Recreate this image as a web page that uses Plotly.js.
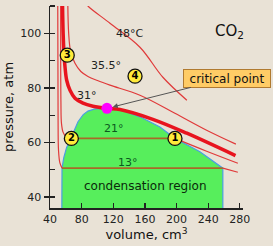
<!DOCTYPE html>
<html>
<head>
<meta charset="utf-8">
<script src="https://cdn.plot.ly/plotly-3.0.1.min.js"></script>
<style>html,body{margin:0;padding:0;background:#E9E2D6;}#chart{width:273px;height:246px;}</style>
</head>
<body>
<div id="chart"></div>
<script>
// Condensation (two-phase) region boundary
const domeVolume   = [55, 55.2, 57.5, 61, 65.3, 70, 75.4, 82, 88, 97, 112, 128, 153.7, 179, 198, 229.5, 258.5, 258.5];
const domePressure = [36, 50.6, 54.5, 58.2, 60.8, 64.3, 67.6, 70.2, 71.5, 72.3, 72.5, 72.1, 69.4, 65.7, 61.5, 56.6, 50.6, 36];

// Isotherms
const iso31Volume   = [55.8, 56.6, 57.7, 59, 61.1, 65.3, 71.6, 81.7, 94.3, 112, 128.4, 170, 213, 274.5];
const iso31Pressure = [111, 100, 92.7, 87.6, 82.8, 79.1, 76.2, 74.4, 73.3, 72.5, 72.1, 68.5, 63.4, 55.2];

const iso355Volume   = [62.5, 63.6, 66, 71.6, 79, 88, 100, 115.8, 153.7, 197.9, 238, 275];
const iso355Pressure = [111, 100, 93.5, 89, 86, 84.2, 82.7, 81, 77.3, 70.7, 64.5, 59.4];

const iso48Volume   = [86, 88, 115.8, 153.7, 182.7, 213];
const iso48Pressure = [111, 110, 103.7, 94.9, 83.9, 75.5];

const iso21LiquidVolume   = [53.5, 53.8, 54.5, 56.5, 60, 66.5];
const iso21LiquidPressure = [111, 75, 67, 63.8, 62.2, 61.5];
const iso21FlatVolume     = [66.5, 198];
const iso21FlatPressure   = [61.5, 61.5];
const iso21GasVolume      = [198, 238, 277.5];
const iso21GasPressure    = [61.5, 56.8, 52.4];

const iso13LiquidVolume   = [49.8, 50.2, 50.8, 52.5, 55.2];
const iso13LiquidPressure = [111, 70, 57, 52.5, 50.6];
const iso13FlatVolume     = [55.2, 258.5];
const iso13FlatPressure   = [50.6, 50.6];
const iso13GasVolume      = [258.5, 277.5];
const iso13GasPressure    = [50.6, 49.1];

// Critical point
const criticalVolume = [112];
const criticalPressure = [72.5];

// Numbered markers
const markerVolume   = [198, 67, 61.8, 147.5];
const markerPressure = [61.5, 61.5, 92, 84.3];
const markerLabels   = ['1', '2', '3', '4'];

// Text labels
const labelText     = ['48°C', '35.5°', '31°', '21°', '13°', 'condensation region'];
const labelVolume   = [141, 110.7, 87.4, 120.8, 138.5, 160.6];
const labelPressure = [100, 88.3, 77.3, 65.2, 52.8, 44];

const xTitle = 'volume, cm<sup>3</sup>';
const yTitle = 'pressure, atm';

const FONT = 'DejaVu Sans, Verdana, sans-serif';
const thinRed = '#E03A3A';
const brown = '#A86A28';

const traces = [
  {x: domeVolume, y: domePressure, mode: 'lines', fill: 'toself', fillcolor: '#57EE5C',
   line: {color: '#4A9FE0', width: 1.2}, hoverinfo: 'skip'},
  {x: iso13FlatVolume, y: iso13FlatPressure, mode: 'lines', line: {color: brown, width: 1.6}},
  {x: iso21FlatVolume, y: iso21FlatPressure, mode: 'lines', line: {color: brown, width: 1.6}},
  {x: iso13LiquidVolume, y: iso13LiquidPressure, mode: 'lines', line: {color: thinRed, width: 1.2, shape: 'spline'}},
  {x: iso21LiquidVolume, y: iso21LiquidPressure, mode: 'lines', line: {color: thinRed, width: 1.2, shape: 'spline'}},
  {x: iso13GasVolume, y: iso13GasPressure, mode: 'lines', line: {color: thinRed, width: 1.2}},
  {x: iso21GasVolume, y: iso21GasPressure, mode: 'lines', line: {color: thinRed, width: 1.2, shape: 'spline'}},
  {x: iso355Volume, y: iso355Pressure, mode: 'lines', line: {color: thinRed, width: 1.2, shape: 'spline'}},
  {x: iso48Volume, y: iso48Pressure, mode: 'lines', line: {color: thinRed, width: 1.2, shape: 'spline'}},
  {x: iso31Volume, y: iso31Pressure, mode: 'lines', line: {color: '#E8141E', width: 3.5, shape: 'spline'}},
  {x: criticalVolume, y: criticalPressure, mode: 'markers', marker: {color: '#FF00FF', size: 11}},
  {x: markerVolume, y: markerPressure, mode: 'markers+text', text: markerLabels.map(t => '<b>' + t + '</b>'),
   textposition: 'middle center', textfont: {family: FONT, size: 10, color: '#000'},
   marker: {color: '#FFEA3A', size: 14, line: {color: '#111', width: 1.3}}, cliponaxis: false}
];

const annotations = labelText.map((t, i) => ({
  x: labelVolume[i], y: labelPressure[i], xref: 'x', yref: 'y', text: t, showarrow: false,
  font: {family: FONT, size: i === 5 ? 12 : 11, color: i === 5 ? '#0A2A0A' : (i >= 3 ? '#0B5A1E' : '#222')}
}));
annotations.push({
  x: criticalVolume[0], y: criticalPressure[0], xref: 'x', yref: 'y',
  text: 'critical point', showarrow: true, ax: 120, ay: -30,
  arrowhead: 2, arrowsize: 1, arrowwidth: 1, arrowcolor: '#555', standoff: 6,
  bgcolor: '#FFCC66', bordercolor: '#B07A30', borderwidth: 1, borderpad: 1,
  width: 84, height: 15, font: {family: FONT, size: 12, color: '#111'}
});
annotations.push({
  x: 1.016, y: 0.93, xref: 'paper', yref: 'paper', text: 'CO<sub>2</sub>', showarrow: false,
  font: {family: FONT, size: 15, color: '#111'}
});

const layout = {
  width: 273, height: 246,
  margin: {l: 50, r: 30, t: 6, b: 38},
  paper_bgcolor: '#E9E2D6', plot_bgcolor: '#E9E2D6',
  showlegend: false,
  font: {family: FONT, size: 11, color: '#222'},
  xaxis: {
    range: [40, 284], tick0: 0, dtick: 40, ticks: 'inside', ticklen: 5, tickcolor: '#222', tickwidth: 1.3,
    showline: true, linecolor: '#222', linewidth: 1.5, showgrid: false, zeroline: false,
    tickfont: {family: FONT, size: 11, color: '#222'},
    title: {text: xTitle, font: {family: FONT, size: 13, color: '#111'}, standoff: 5}
  },
  yaxis: {
    range: [36, 110], tick0: 0, dtick: 20, ticks: 'outside', ticklen: 5, tickcolor: '#222', tickwidth: 1.3,
    minor: {tick0: 0, dtick: 10, ticks: 'inside', ticklen: 5, tickcolor: '#222', tickwidth: 1.3, showgrid: false},
    showline: true, linecolor: '#222', linewidth: 1.5, showgrid: false, zeroline: false,
    tickfont: {family: FONT, size: 11, color: '#222'},
    title: {text: yTitle, font: {family: FONT, size: 13, color: '#111'}, standoff: 3}
  },
  annotations: annotations
};

Plotly.newPlot('chart', traces, layout, {staticPlot: true, displayModeBar: false});
</script>
</body>
</html>
